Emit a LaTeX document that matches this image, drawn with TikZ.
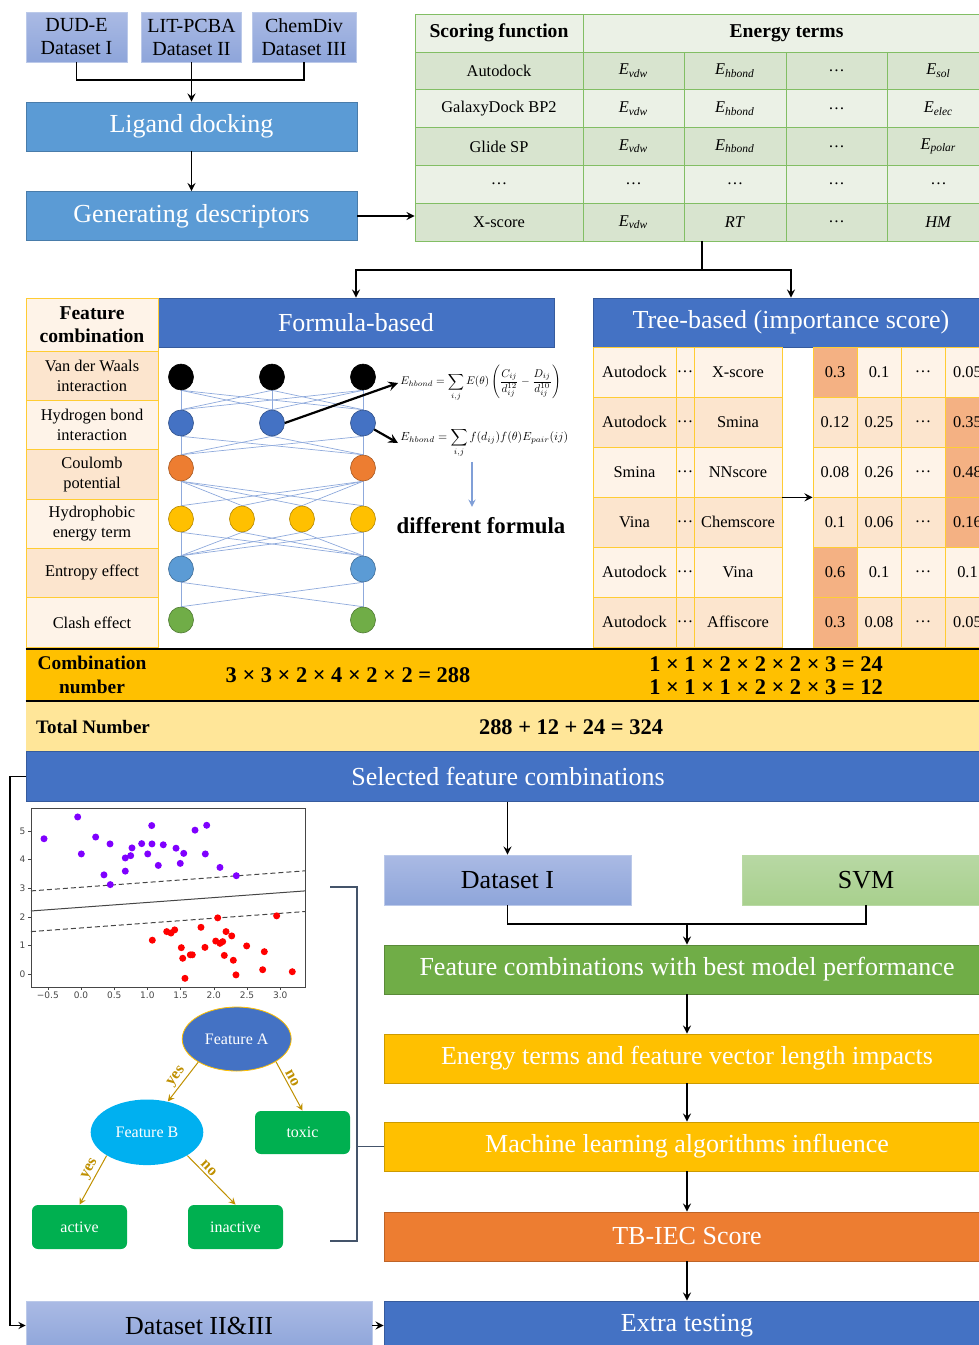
\documentclass[tikz,border=0pt]{standalone}
\usepackage{fontspec}
\setmainfont{Liberation Serif}
\newfontfamily\plotfont{DejaVu Sans}
\usepackage{amsmath}
\usepackage{graphicx}
\usetikzlibrary{shapes,arrows,positioning,calc,fit,backgrounds}
\usepackage{xcolor}
\definecolor{dockblue}{RGB}{91,155,213}
\definecolor{headblue}{RGB}{68,114,196}
\definecolor{setviolet}{RGB}{142,165,218}
\definecolor{setvioletlt}{RGB}{170,186,228}
\definecolor{tablegreen}{RGB}{130,190,100}
\definecolor{greendark}{RGB}{216,228,207}
\definecolor{greenlight}{RGB}{235,241,230}
\definecolor{featgold}{RGB}{255,192,0}
\definecolor{cellgold}{RGB}{255,204,51}
\definecolor{peachlight}{RGB}{254,243,232}
\definecolor{peachdark}{RGB}{252,229,206}
\definecolor{peachhot}{RGB}{244,177,131}
\definecolor{paleyellow}{RGB}{255,230,153}
\definecolor{scoreorange}{RGB}{237,125,49}
\definecolor{bestgreen}{RGB}{112,173,71}
\definecolor{svmgreen}{RGB}{168,208,141}
\definecolor{svmgreenlt}{RGB}{184,216,164}
\definecolor{slate}{RGB}{68,84,106}
\definecolor{netline}{RGB}{143,170,220}
\definecolor{leafgreen}{RGB}{0,176,80}
\definecolor{skyblue}{RGB}{0,176,240}
\definecolor{edgegold}{RGB}{191,144,0}
\definecolor{ptviolet}{RGB}{127,0,255}
\definecolor{axisgrey}{RGB}{70,70,70}
\newcommand{\En}[1]{\textit{E}\textsubscript{\textit{#1}}}
\newcommand{\fsz}[2]{\fontsize{#1}{#2}\selectfont}

\begin{document}
\begin{tikzpicture}[
        x=0.5pt, y=-0.5pt,
        bigbox/.style={rectangle, draw=#1!80!black, fill=#1, text=white, font=\fsz{13}{15.6}, inner sep=0pt, minimum height=24.5pt},
        databox/.style={rectangle, draw=setviolet!60!white, top color=setvioletlt, bottom color=setviolet, inner sep=0pt, align=center},
        sfcell/.style={rectangle, draw=tablegreen, line width=0.4pt, inner sep=0pt, minimum height=18.9pt, font=\fsz{8.2}{9.8}},
        fccell/.style={rectangle, draw=cellgold, line width=0.4pt, inner sep=0pt, minimum width=66pt, minimum height=24.67pt, align=center, font=\fsz{8.2}{9.8}},
        tbcell/.style={rectangle, draw=cellgold, line width=0.4pt, inner sep=0pt, minimum height=25pt, font=\fsz{8.2}{9.8}},
        neuron/.style={ellipse, draw=#1!70!black, fill=#1, line width=0.3pt, minimum width=12.5pt, minimum height=13pt, inner sep=0pt},
        synapse/.style={netline, line width=0.35pt},
        arrow/.style={->, thick, >=stealth},
        leaf/.style={rectangle, rounded corners=3pt, fill=leafgreen, text=white, minimum width=47.5pt, minimum height=22pt, inner sep=0pt, font=\fsz{8}{9.6}},
        question/.style={ellipse, fill=#1, text=white, inner sep=0pt, font=\fsz{8}{9.6}},
        treeedge/.style={->, >=stealth, edgegold, line width=0.5pt},
        answer/.style={font=\bfseries\fsz{8}{9.6}, sloped, above, inner sep=1pt},
        plotlabel/.style={font=\plotfont\fsz{4.5}{5}, inner sep=0pt, text=axisgrey}
    ]
        \path[use as bounding box] (0,0) rectangle (979,1345);
        \clip (0,0) rectangle (979,1345);

        % Datasets and docking
        \node[databox, minimum width=50.5pt, minimum height=25pt, font=\fsz{10}{11.5}] (dude) at (76.5,37) {DUD-E\\Dataset I};
        \node[databox, minimum width=50pt, minimum height=25pt, font=\fsz{10}{11.5}] (litpcba) at (191.5,37) {LIT-PCBA\\Dataset II};
        \node[databox, minimum width=52pt, minimum height=25pt, font=\fsz{10}{11.5}] (chemdiv) at (304,37) {ChemDiv\\Dataset III};
        \node[bigbox=dockblue, minimum width=165.5pt] (ligand) at (191.5,126.5) {Ligand docking};
        \node[bigbox=dockblue, minimum width=165.5pt] (descriptors) at (191.5,216) {Generating descriptors};

        \coordinate (merge) at (191.5,80);
        \draw[thick] (dude.south) |- (merge) -| (chemdiv.south);
        \draw[arrow] (litpcba.south) -- (ligand.north);
        \draw[arrow] (ligand.south) -- (descriptors.north);

        % Scoring function table
        \node[sfcell, fill=greenlight, minimum width=84pt, minimum height=19pt, font=\bfseries\fsz{9.8}{11}] (sf-0-1) at (499,33) {Scoring function};
        \node[sfcell, fill=greenlight, minimum width=203.5pt, minimum height=19pt, font=\bfseries\fsz{9.8}{11}] (sf-0-2) at (786.5,33) {Energy terms};
        \foreach \rowfill/\sfname/\ea/\eb/\ec/\ed [count=\r] in {
            greendark/Autodock/\En{vdw}/\En{hbond}/\dots/\En{sol},
            greenlight/GalaxyDock BP2/\En{vdw}/\En{hbond}/\dots/\En{elec},
            greendark/Glide SP/\En{vdw}/\En{hbond}/\dots/\En{polar},
            greenlight/\dots/\dots/\dots/\dots/\dots,
            greendark/X-score/\En{vdw}/\textit{RT}/\dots/\textit{HM}}{
            \pgfmathsetmacro{\yc}{33+37.8*\r}
            \node[sfcell, fill=\rowfill, minimum width=84pt] (sf-\r-1) at (499,\yc) {\sfname};
            \node[sfcell, fill=\rowfill, minimum width=50.5pt] (sf-\r-2) at (633.5,\yc) {\ea};
            \node[sfcell, fill=\rowfill, minimum width=51pt] (sf-\r-3) at (735,\yc) {\eb};
            \node[sfcell, fill=\rowfill, minimum width=50.5pt] (sf-\r-4) at (836.5,\yc) {\ec};
            \node[sfcell, fill=\rowfill, minimum width=51.5pt] (sf-\r-5) at (938.5,\yc) {\ed};
        }
        \draw[arrow] (descriptors.east) -- (descriptors.east -| sf-5-1.west);

        % Two branches
        \node[bigbox=headblue, minimum width=198pt] (formula) at (356,322.5) {Formula-based};
        \node[bigbox=headblue, minimum width=198pt] (tree) at (791,322.5) {Tree-based (importance score)};
        \coordinate (fork) at (702,270);
        \draw[thick] (fork |- sf-5-3.south) -- (fork);
        \draw[arrow] (fork) -| (formula.north);
        \draw[arrow] (fork) -| (tree.north);

        % Feature combination column
        \node[fccell, fill=peachlight, minimum height=26.5pt, font=\bfseries\fsz{9.8}{11.7}] (fc-0) at (92,324.5) {Feature\\combination};
        \foreach \rowfill/\term [count=\r] in {
            peachdark/Van der Waals\\interaction,
            peachlight/Hydrogen bond\\interaction,
            peachdark/Coulomb\\potential,
            peachlight/Hydrophobic\\energy term,
            peachdark/Entropy effect,
            peachlight/Clash effect}{
            \pgfmathsetmacro{\yc}{351+49.33*(\r-0.5)}
            \node[fccell, fill=\rowfill] (fc-\r) at (92,\yc) {\term};
        }

        % Network
        \foreach \x [count=\i] in {181,272,363} \node[neuron=black] (n1-\i) at (\x,377) {};
        \foreach \x [count=\i] in {181,272,363} \node[neuron=headblue] (n2-\i) at (\x,423) {};
        \foreach \x [count=\i] in {181,363} \node[neuron=scoreorange] (n3-\i) at (\x,468) {};
        \foreach \x [count=\i] in {181,242,302,363} \node[neuron=featgold] (n4-\i) at (\x,519) {};
        \foreach \x [count=\i] in {181,363} \node[neuron=dockblue] (n5-\i) at (\x,569) {};
        \foreach \x [count=\i] in {181,363} \node[neuron=bestgreen] (n6-\i) at (\x,620) {};
        \begin{scope}[on background layer]
            \foreach \i in {1,2,3} \foreach \j in {1,2,3} \draw[synapse] (n1-\i.south) -- (n2-\j.north);
            \foreach \i in {1,2,3} \foreach \j in {1,2} \draw[synapse] (n2-\i.south) -- (n3-\j.north);
            \foreach \i in {1,2} \foreach \j in {1,...,4} \draw[synapse] (n3-\i.south) -- (n4-\j.north);
            \foreach \i in {1,...,4} \foreach \j in {1,2} \draw[synapse] (n4-\i.south) -- (n5-\j.north);
            \foreach \i in {1,2} \foreach \j in {1,2} \draw[synapse] (n5-\i.south) -- (n6-\j.north);
        \end{scope}

        % Formulas
        \node[inner sep=1pt, anchor=west] (eq1) at (398,383) {\scalebox{0.56}{$\displaystyle E_{hbond}=\sum_{i,j}E(\theta)\left(\frac{C_{ij}}{d_{ij}^{12}}-\frac{D_{ij}}{d_{ij}^{10}}\right)$}};
        \node[inner sep=1pt, anchor=west] (eq2) at (398,443) {\scalebox{0.59}{$\displaystyle E_{hbond}=\sum_{i,j}f(d_{ij})f(\theta)E_{pair}(ij)$}};
        \node[font=\bfseries\fsz{11.4}{13}] (diff) at (481,526) {different formula};
        \draw[arrow, line width=1.1pt] (n2-2.east) -- (eq1.west);
        \draw[arrow, line width=1.1pt] (n2-3.-30) -- (eq2.west);
        \coordinate (diffx) at (472,0);
        \draw[->, >=stealth, netline!80!headblue, semithick] ([yshift=-1pt]eq2.south -| diffx) -- ([yshift=2pt]diff.north -| diffx);

        % Tree-based tables
        \foreach \rowfill/\first/\last [count=\r] in {
            peachlight/Autodock/X-score,
            peachdark/Autodock/Smina,
            peachlight/Smina/NNscore,
            peachdark/Vina/Chemscore,
            peachlight/Autodock/Vina,
            peachdark/Autodock/Affiscore}{
            \pgfmathsetmacro{\yc}{322+50*\r}
            \node[tbcell, fill=\rowfill, minimum width=41.5pt] (tl-\r-1) at (634.5,\yc) {\first};
            \node[tbcell, fill=\rowfill, minimum width=9pt] (tl-\r-2) at (685,\yc) {\dots};
            \node[tbcell, fill=\rowfill, minimum width=44pt] (tl-\r-3) at (738,\yc) {\last};
        }
        \foreach \rowfill/\va/\fa/\vb/\vd/\fd [count=\r] in {
            peachlight/0.3/peachhot/0.1/0.05/peachlight,
            peachdark/0.12/peachdark/0.25/0.35/peachhot,
            peachlight/0.08/peachlight/0.26/0.48/peachhot,
            peachdark/0.1/peachdark/0.06/0.16/peachhot,
            peachlight/0.6/peachhot/0.1/0.1/peachlight,
            peachdark/0.3/peachhot/0.08/0.05/peachdark}{
            \pgfmathsetmacro{\yc}{322+50*\r}
            \node[tbcell, fill=\fa, minimum width=22pt] (tv-\r-1) at (835,\yc) {\va};
            \node[tbcell, fill=\rowfill, minimum width=22pt] (tv-\r-2) at (879,\yc) {\vb};
            \node[tbcell, fill=\rowfill, minimum width=22pt] (tv-\r-3) at (923,\yc) {\dots};
            \node[tbcell, fill=\fd, minimum width=22.5pt] (tv-\r-4) at (967.5,\yc) {\vd};
        }
        \draw[arrow] (tl-3-3.south east) -- (tl-3-3.south east -| tv-3-1.west);

        % Counting rows
        \node[fill=featgold, minimum width=482pt, minimum height=26pt, inner sep=0pt] (combo) at (508,675) {};
        \draw[line width=1.1pt] (combo.north west) -- (combo.north east);
        \draw[line width=1.1pt] (combo.south west) -- (combo.south east);
        \node[font=\bfseries\fsz{9.7}{12}, align=center] (combolabel) at (92,675) {Combination\\number};
        \node[font=\bfseries\fsz{11.2}{13}] (formulacount) at (348,675) {3 × 3 × 2 × 4 × 2 × 2 = 288};
        \node[font=\bfseries\fsz{11.2}{11.6}, align=center] (treecount) at (766,676) {1 × 1 × 2 × 2 × 2 × 3 = 24\\1 × 1 × 1 × 2 × 2 × 3 = 12};
        \node[fill=paleyellow, minimum width=482pt, minimum height=24.5pt, inner sep=0pt] (total) at (508,726) {};
        \node[font=\bfseries\fsz{9.5}{11}] (totallabel) at (93,727) {Total Number};
        \node[font=\bfseries\fsz{11.2}{13}] (totalcount) at (571,727) {288 + 12 + 24 = 324};

        % Model building
        \node[bigbox=headblue, minimum width=482pt, minimum height=25pt] (selected) at (508,776.5) {Selected feature combinations};
        \node[databox, minimum width=123.5pt, minimum height=25pt, font=\fsz{13}{15.6}] (setone) at (507.5,880) {Dataset I};
        \node[rectangle, draw=svmgreen!80!white, top color=svmgreenlt, bottom color=svmgreen, inner sep=0pt, minimum width=124pt, minimum height=25pt, font=\fsz{13}{15.6}] (svm) at (866,880) {SVM};
        \node[bigbox=bestgreen, minimum width=303pt] (best) at (687,969.5) {Feature combinations with best model performance};
        \node[bigbox=featgold, minimum width=303pt] (impact) at (687,1058.5) {Energy terms and feature vector length impacts};
        \node[bigbox=featgold, minimum width=303pt] (influence) at (687,1146.5) {Machine learning algorithms influence};
        \node[bigbox=scoreorange, minimum width=303pt] (tbiec) at (687,1236.5) {TB-IEC Score};
        \node[bigbox=headblue, minimum width=303pt] (extra) at (687,1325.5) {Extra testing};
        \node[databox, minimum width=173pt, minimum height=24.5pt, font=\fsz{13}{15.6}] (settwo) at (199,1325.5) {Dataset II\&III};

        \coordinate (join) at (687,924);
        \draw[arrow] (selected.south -| setone) -- (setone.north);
        \draw[thick] (setone.south) |- (join) -| (svm.south);
        \draw[arrow] (join) -- (best.north);
        \draw[arrow] (best) -- (impact);
        \draw[arrow] (impact) -- (influence);
        \draw[arrow] (influence) -- (tbiec);
        \draw[arrow] (tbiec) -- (extra);
        \draw[arrow] (settwo.east) -- (extra.west);
        \coordinate (track) at (10,776.5);
        \draw[arrow, semithick] (selected.west) -- (track) |- (settwo.west);

        % SVM scatter
        \begin{scope}[shift={(81,974.3)}, x=33.2pt, y=14.33pt]
            \draw[axisgrey, line width=0.4pt] (-0.753,-0.443) rectangle (3.373,5.8);
            \foreach \v/\lab [count=\k] in {-0.5/−0.5,0/0.0,0.5/0.5,1/1.0,1.5/1.5,2/2.0,2.5/2.5,3/3.0}{
                \draw[axisgrey, line width=0.3pt] (\v,-0.443) -- ++(0,-1.5pt);
                \node[plotlabel, anchor=north, yshift=-2.3pt] (xtick\k) at (\v,-0.443) {\lab};
            }
            \foreach \v [count=\k] in {0,...,5}{
                \draw[axisgrey, line width=0.3pt] (-0.753,\v) -- ++(-1.5pt,0);
                \node[plotlabel, anchor=east, xshift=-2.6pt] (ytick\k) at (-0.753,\v) {\v};
            }
            \draw[axisgrey, line width=0.5pt] (-0.753,2.21) -- (3.373,2.91);
            \draw[axisgrey, line width=0.5pt, dash pattern=on 2.5pt off 1.5pt] (-0.753,2.91) -- (3.373,3.61);
            \draw[axisgrey, line width=0.5pt, dash pattern=on 2.5pt off 1.5pt] (-0.753,1.49) -- (3.373,2.19);
            \foreach \px/\py in {-0.557/4.73,-0.05/5.49,0.005/4.20,0.221/4.79,0.437/4.55,0.346/3.47,0.441/3.13,
                0.667/3.60,0.667/4.06,0.748/4.14,0.768/4.41,0.914/4.56,1.005/4.20,1.065/5.19,1.069/4.55,
                1.164/3.80,1.239/4.52,1.431/4.40,1.495/3.87,1.547/4.22,1.717/5.03,1.872/4.20,1.893/5.20,
                2.093/3.73,2.339/3.44}
                \fill[ptviolet] (\px,\py) circle[radius=1.75pt];
            \foreach \px/\py in {1.074/1.19,1.291/1.49,1.355/1.44,1.411/1.55,1.511/0.93,1.532/0.56,1.566/-0.14,
                1.646/0.68,1.676/0.68,1.807/1.64,1.867/0.94,2.029/1.16,2.059/1.97,2.093/1.08,2.134/1.14,
                2.158/0.66,2.184/1.49,2.270/1.34,2.294/0.49,2.334/-0.02,2.495/0.99,2.761/0.79,2.736/0.16,
                2.947/2.04,3.182/0.09}
                \fill[red] (\px,\py) circle[radius=1.75pt];
        \end{scope}

        % Decision tree
        \node[question=headblue, draw=featgold, line width=0.4pt, minimum width=54.5pt, minimum height=32pt] (featA) at (236.7,1039) {Feature A};
        \node[question=skyblue, minimum width=56.3pt, minimum height=32.8pt] (featB) at (147,1132.3) {Feature B};
        \node[leaf, minimum height=21.5pt] (toxic) at (302.5,1132.5) {toxic};
        \node[leaf] (active) at (79.5,1227) {active};
        \node[leaf] (inactive) at (235.5,1227) {inactive};
        \draw[treeedge] (featA.211) -- node[answer, pos=0.5] {yes} (featB.56);
        \draw[treeedge] (featA.-30) -- node[answer, pos=0.4] {no} (toxic.north);
        \draw[treeedge] (featB.210) -- node[answer, pos=0.35] {yes} (active.north);
        \draw[treeedge] (featB.-30) -- node[answer, pos=0.35] {no} (inactive.north);

        % Bracket
        \draw[slate, line width=0.7pt] (330,887) -- (357,887) -- (357,1241) -- (330,1241);
        \draw[slate, line width=0.7pt] (influence.west) -- ++(-27,0);
\end{tikzpicture}
\end{document}
